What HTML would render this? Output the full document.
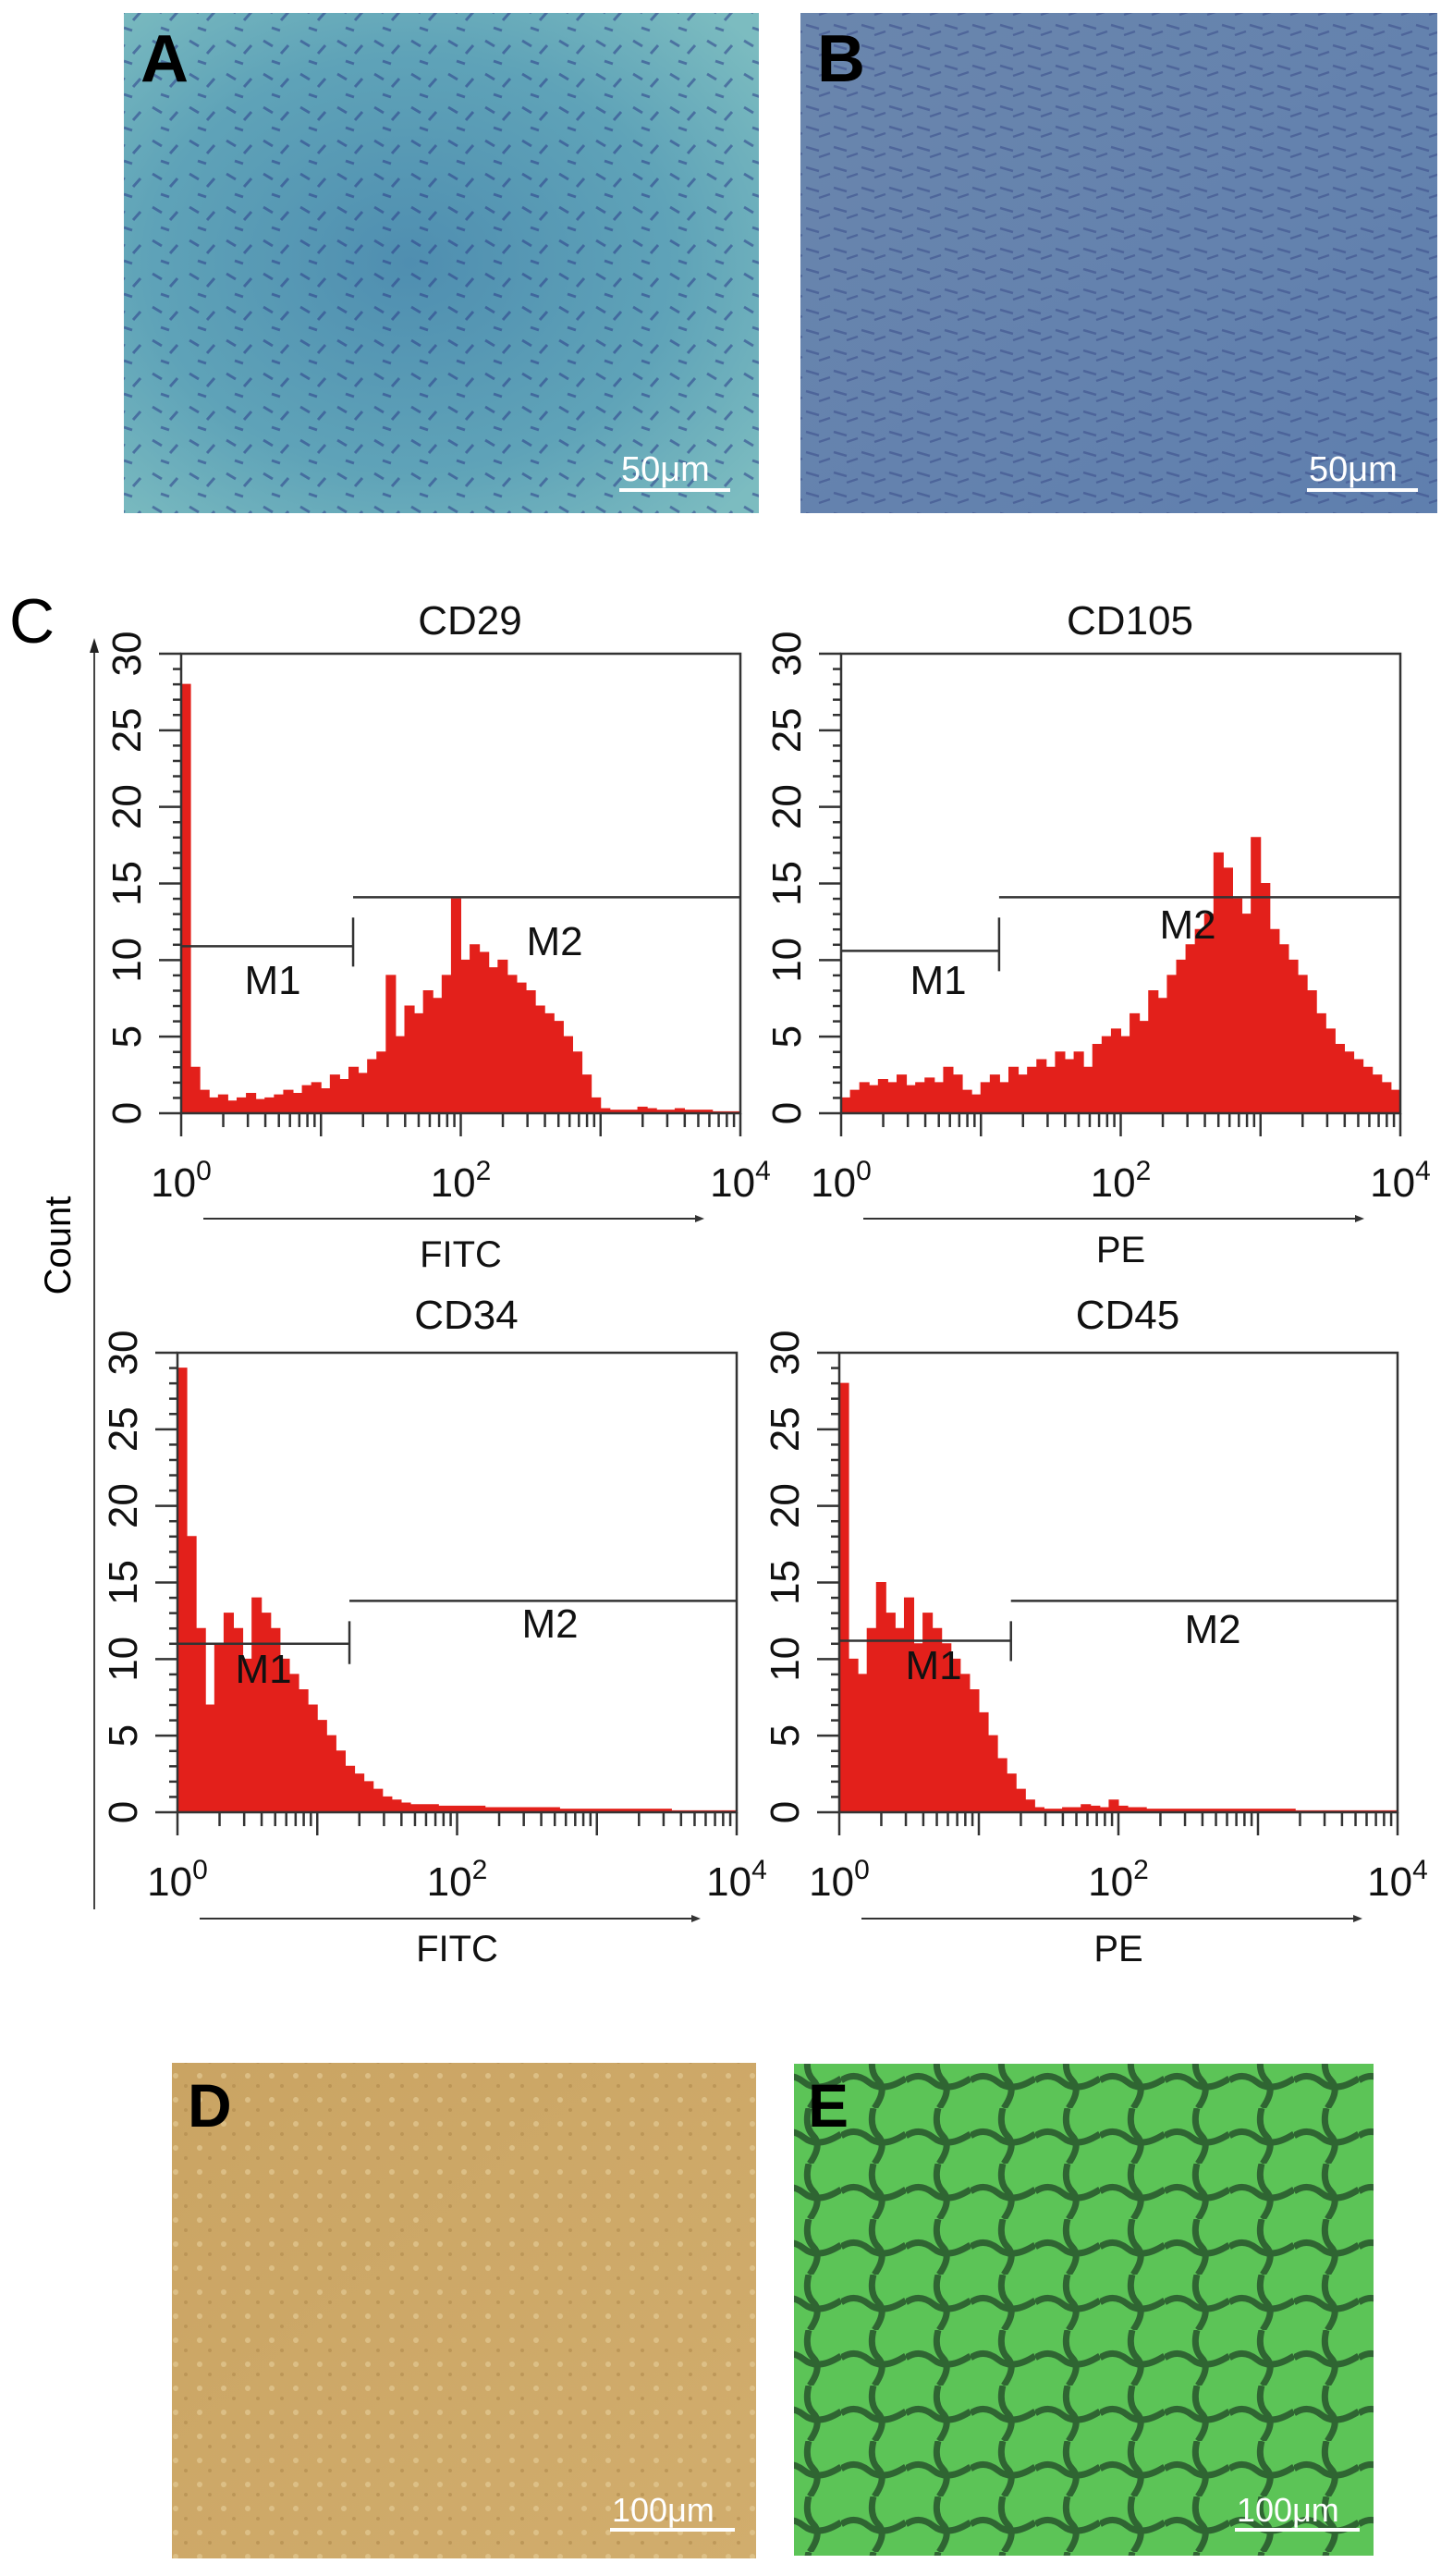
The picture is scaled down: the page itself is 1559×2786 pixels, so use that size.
<!DOCTYPE html>
<html><head><meta charset="utf-8"><style>
html,body{margin:0;padding:0;background:#fff;}
svg{display:block;font-family:"Liberation Sans",sans-serif;}
</style></head><body>
<svg id="fig" width="1559" height="2786" viewBox="0 0 1559 2786" xmlns="http://www.w3.org/2000/svg">
<defs>
<radialGradient id="gA" cx="0.45" cy="0.5" r="0.7"><stop offset="0" stop-color="#4f8eb0"/><stop offset="0.6" stop-color="#5fa3b8"/><stop offset="1" stop-color="#7cbcc0"/></radialGradient>
<linearGradient id="gB" x1="0" y1="0" x2="1" y2="1"><stop offset="0" stop-color="#6a86ad"/><stop offset="1" stop-color="#5f7fae"/></linearGradient>
<linearGradient id="gD" x1="0" y1="0" x2="1" y2="1"><stop offset="0" stop-color="#caa463"/><stop offset="1" stop-color="#d1ad6d"/></linearGradient>
<pattern id="pA" width="40" height="36" patternUnits="userSpaceOnUse"><path d="M5 8 l10 6 M24 22 l8 -9 M14 30 l9 3" stroke="#2d3f8a" stroke-width="3" opacity="0.7"/></pattern>
<pattern id="pB" width="30" height="22" patternUnits="userSpaceOnUse"><path d="M2 5 l14 4 M16 16 l12 -4" stroke="#3a4c8a" stroke-width="2.5" opacity="0.55"/></pattern>
<pattern id="pE" width="70" height="60" patternUnits="userSpaceOnUse"><path d="M0 30 q15 -10 30 2 t40 -4 M35 0 q-5 20 5 30 t-4 30" stroke="#1d3d22" stroke-width="7" fill="none" opacity="0.7"/></pattern>
<pattern id="pD" width="26" height="26" patternUnits="userSpaceOnUse"><circle cx="8" cy="9" r="3" fill="#e3c993" opacity="0.7"/><circle cx="19" cy="20" r="2" fill="#b08a4c" opacity="0.6"/></pattern>
</defs>

<!-- Panel A -->
<g>
<rect x="134" y="14" width="687" height="541" fill="url(#gA)"/>
<rect x="134" y="14" width="687" height="541" fill="url(#pA)" opacity="0.8"/>
<text x="152" y="88" font-size="72" font-weight="bold" fill="#000">A</text>
<text x="672" y="520" font-size="38" fill="#fff">50μm</text>
<rect x="670" y="528" width="120" height="4" fill="#fff"/>
</g>
<!-- Panel B -->
<g>
<rect x="866" y="14" width="689" height="541" fill="url(#gB)"/>
<rect x="866" y="14" width="689" height="541" fill="url(#pB)"/>
<text x="884" y="88" font-size="72" font-weight="bold" fill="#000">B</text>
<text x="1416" y="520" font-size="38" fill="#fff">50μm</text>
<rect x="1414" y="528" width="120" height="4" fill="#fff"/>
</g>

<text x="10" y="695" font-size="68" fill="#000">C</text>
<!-- Count axis -->
<line x1="102" y1="700" x2="102" y2="2065" stroke="#444" stroke-width="2"/>
<path d="M97 706 L102 690 L107 706 Z" fill="#222"/>
<text transform="translate(76,1347) rotate(-90)" text-anchor="middle" font-size="40" fill="#000">Count</text>

<g id="charts"></g>

<!-- Panel D -->
<g>
<rect x="186" y="2231" width="632" height="536" fill="url(#gD)"/>
<rect x="186" y="2231" width="632" height="536" fill="url(#pD)"/>
<text x="203" y="2300" font-size="66" font-weight="bold" fill="#000">D</text>
<text x="662" y="2727" font-size="36" fill="#fff">100μm</text>
<rect x="660" y="2734" width="135" height="4" fill="#fff"/>
</g>
<!-- Panel E -->
<g>
<rect x="859" y="2232" width="627" height="532" fill="#5cc457"/>
<rect x="859" y="2232" width="627" height="532" fill="url(#pE)"/>
<text x="874" y="2300" font-size="66" font-weight="bold" fill="#000">E</text>
<text x="1338" y="2727" font-size="36" fill="#fff">100μm</text>
<rect x="1336" y="2734" width="135" height="4" fill="#fff"/>
</g>
</svg>
<script>
// Histogram counts, 60 bins per panel spanning 10^0..10^4 (1/15 decade each)
const binsPerDecade = 15;
const yTicks = [0, 5, 10, 15, 20, 25, 30];
const xTickLabels = ["0", "2", "4"];
const cd29Counts = [28,3,1.5,1,1.2,0.8,1,1.3,0.9,1,1.2,1.5,1.3,1.8,2,1.6,2.5,2.2,3,2.6,3.5,4,9,5,7,6.5,8,7.5,9,14,10,11,10.5,9.5,10,9,8.5,8,7,6.5,6,5,4,2.5,1,0.3,0.2,0.2,0.2,0.4,0.3,0.2,0.2,0.3,0.2,0.2,0.2,0.1,0.1,0.1];
const cd105Counts = [1,1.5,2,1.8,2.2,2,2.5,1.8,2,2.3,2,3,2.5,1.5,1.2,2,2.5,2,3,2.5,3,3.5,3,4,3.5,4,3,4.5,5,5.5,5,6.5,6,8,7.5,9,10,11,12,13,17,16,14,13,18,15,12,11,10,9,8,6.5,5.5,4.5,4,3.5,3,2.5,2,1.5];
const cd34Counts = [29,18,12,7,11,13,12,10,14,13,12,10,9,8,7,6,5,4,3,2.5,2,1.5,1,0.8,0.6,0.5,0.5,0.5,0.4,0.4,0.4,0.4,0.4,0.3,0.3,0.3,0.3,0.3,0.3,0.3,0.3,0.2,0.2,0.2,0.2,0.2,0.2,0.2,0.2,0.2,0.2,0.2,0.2,0.1,0.1,0.1,0.1,0.1,0.1,0.1];
const cd45Counts = [28,10,9,12,15,13,12,14,11,13,12,11,10,9,8,6.5,5,3.5,2.5,1.5,0.8,0.3,0.2,0.2,0.3,0.3,0.5,0.4,0.3,0.8,0.4,0.3,0.3,0.2,0.2,0.2,0.2,0.2,0.2,0.2,0.2,0.2,0.2,0.2,0.2,0.2,0.2,0.2,0.2,0.1,0.1,0.1,0.1,0.1,0.1,0.1,0.1,0.1,0.1,0.1];
// gates: [boundary decade, M1 level, M2 level]
const cd29Gate = [1.23, 10.9, 14.1];
const cd105Gate = [1.13, 10.6, 14.1];
const cd34Gate = [1.23, 11, 13.8];
const cd45Gate = [1.23, 11.2, 13.8];

const NS = "http://www.w3.org/2000/svg";
function mk(tag, attrs, parent){const e=document.createElementNS(NS,tag);for(const k in attrs)e.setAttribute(k,attrs[k]);parent.appendChild(e);return e;}
const root = document.getElementById('charts');

function drawHist(title, counts, gate, xlabel, L, T, R, B, m1pos, m2pos, titleY, xlabY, arrowY, xtitleY){
  const g = mk('g',{},root);
  
  
  const xs = d => L + (R - L) * d / 4;
  const ys = v => B - (B - T) * v / 30;
  // histogram
  let d = 'M' + xs(0) + ' ' + B;
  counts.forEach((c, i) => {
    const x0 = xs(i / binsPerDecade), x1 = xs((i + 1) / binsPerDecade);
    d += ' L' + x0 + ' ' + ys(c) + ' L' + x1 + ' ' + ys(c);
  });
  d += ' L' + xs(counts.length / binsPerDecade) + ' ' + B + ' Z';
  const h = mk('path',{d:d, fill:'#e3201b', stroke:'#e3201b', 'stroke-width':1}, g);
  
  
  // box
  const box = mk('path',{d:`M${L} ${B} L${L} ${T} L${R} ${T} L${R} ${B} L${L} ${B}`, fill:'none', stroke:'#333', 'stroke-width':2.5}, g);
  
  
  // y ticks
  for (let v = 0; v <= 30; v++) {
    const len = v % 5 === 0 ? 24 : 9;
    mk('line',{x1:L-len, x2:L, y1:ys(v), y2:ys(v), stroke:'#333', 'stroke-width':2.5}, g);
  }
  yTicks.forEach(v => {
    const t = mk('text',{transform:`translate(${L-44},${ys(v)}) rotate(-90)`, 'text-anchor':'middle', 'font-size':44, fill:'#111'}, g);
    t.textContent = v;
    
    
  });
  // x ticks
  for (let dec = 0; dec < 4; dec++) {
    for (let k = 1; k <= 9; k++) {
      const x = xs(dec + Math.log10(k));
      mk('line',{x1:x, x2:x, y1:B, y2:B + (k === 1 ? 25 : 15), stroke:'#333', 'stroke-width':2.5}, g);
    }
  }
  mk('line',{x1:xs(4), x2:xs(4), y1:B, y2:B+25, stroke:'#333', 'stroke-width':2.5}, g);
  xTickLabels.forEach(p => {
    const t = mk('text',{x:xs(+p), y:B+90, 'text-anchor':'middle', 'font-size':44, fill:'#111'}, g);
    t.textContent = '10';
    const s = mk('tspan',{dy:-18, 'font-size':30}, t);
    s.textContent = p;
    
    
  });
  // arrow & axis title
  mk('line',{x1:L+24, x2:L+560, y1:arrowY, y2:arrowY, stroke:'#333', 'stroke-width':2}, g);
  mk('path',{d:`M${L+566} ${arrowY} l-10 -4 l0 8 Z`, fill:'#333'}, g);
  const xt = mk('text',{x:(L+R)/2, y:xtitleY, 'text-anchor':'middle', 'font-size':40, fill:'#111'}, g);
  xt.textContent = xlabel;
  
  
  const tt = mk('text',{x:(L+R)/2 + 10, y:titleY, 'text-anchor':'middle', 'font-size':44, fill:'#111'}, g);
  tt.textContent = title;
  
  
  // gates
  const gx = xs(gate[0]);
  const gm = mk('path',{d:`M${L} ${ys(gate[1])} L${gx} ${ys(gate[1])} M${gx} ${ys(gate[2])+22} L${gx} ${ys(gate[1])+22} M${gx} ${ys(gate[2])} L${R} ${ys(gate[2])}`, fill:'none', stroke:'#333', 'stroke-width':2.5}, g);
  
  
  const t1 = mk('text',{x:m1pos[0], y:m1pos[1], 'text-anchor':'middle', 'font-size':44, fill:'#111'}, g);
  t1.textContent = 'M1';
  
  
  const t2 = mk('text',{x:m2pos[0], y:m2pos[1], 'text-anchor':'middle', 'font-size':44, fill:'#111'}, g);
  t2.textContent = 'M2';
  
  
}
drawHist('CD29', cd29Counts, cd29Gate, 'FITC', 196, 707, 801, 1204, [295,1075], [600,1033], 686, 0, 1318, 1370);
drawHist('CD105', cd105Counts, cd105Gate, 'PE', 910, 707, 1515, 1204, [1015,1075], [1285,1015], 686, 0, 1318, 1365);
drawHist('CD34', cd34Counts, cd34Gate, 'FITC', 192, 1463, 797, 1960, [285,1820], [595,1771], 1437, 0, 2075, 2121);
drawHist('CD45', cd45Counts, cd45Gate, 'PE', 908, 1463, 1512, 1960, [1010,1816], [1312,1777], 1437, 0, 2075, 2121);
</script>
</body></html>
